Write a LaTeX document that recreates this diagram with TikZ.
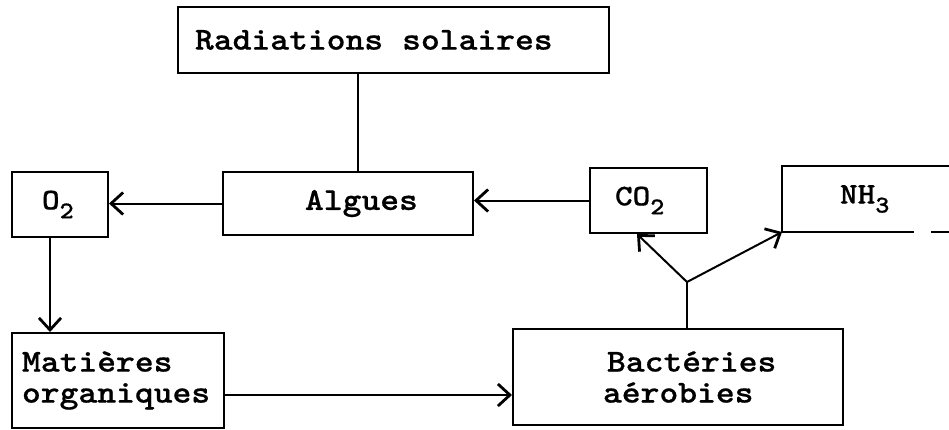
\documentclass[tikz,border=0pt]{standalone}
\usepackage{fontspec}
\newfontfamily\tw[FakeStretch=1.12,FakeBold=0.6]{lmmonolt10-bold.otf}
\usetikzlibrary{arrows.meta}
\newcommand\sbs[1]{\raisebox{-9pt}{\fontsize{24}{24}\selectfont #1}}
\begin{document}
\begin{tikzpicture}[x=1pt,y=-1pt,
  box/.style={draw, line width=2pt, inner sep=0pt, align=left,
    font=\tw\fontsize{32}{31}\selectfont},
  chem/.style={box, font=\tw\fontsize{30}{30}\selectfont},
  arr/.style={line width=2pt, -{Straight Barb[length=12pt,width=22pt,line width=2.8pt]}},
  ln/.style={line width=2pt}]
\useasboundingbox (0,0) rectangle (949,429);
\node[box, text width=431pt, minimum height=66pt] (rad) at (393.5,40)
  {\hspace*{17pt}Radiations\hspace*{19pt}solaires};
\node[box, text width=250pt, minimum height=63pt] (alg) at (348,203.5)
  {\hspace*{82pt}Algues};
\node[chem, text width=96pt, minimum height=65pt] (o2) at (60,204.5)
  {\hspace*{30pt}O\sbs{2}};
\node[chem, text width=117pt, minimum height=65pt] (co2) at (648.5,200.5)
  {\hspace*{25pt}CO\sbs{2}};
\node[chem, draw=none, text width=166pt, minimum height=64pt] (nh3) at (866,199)
  {\hspace*{57pt}NH\sbs{3}};
\node[box, text width=212pt, minimum height=95pt] (mat) at (118,380.5)
  {\hspace*{10pt}Matières\\\hspace*{10pt}organiques};
\node[box, text width=330pt, minimum height=96pt] (bac) at (678,377)
  {\hspace*{94pt}Bactéries\\\hspace*{90pt}aérobies};
% NH3 open box
\draw[ln] (nh3.north east) -- (nh3.north west) -- (nh3.south west) -- ([xshift=132pt]nh3.south west);
\draw[ln] ([xshift=149pt]nh3.south west) -- (nh3.south east);
% connectors
\draw[ln] ([xshift=-35.5pt]rad.south) -- ([xshift=10pt]alg.north);
\draw[arr] (alg.west) -- (alg.west -| o2.east);
\draw[arr] (co2.west) -- (co2.west -| alg.east);
\draw[arr] ([xshift=-10pt]o2.south) -- ([xshift=-10pt]o2.south |- mat.north);
\draw[arr] ([yshift=-14.5pt]mat.east) -- ([yshift=-14.5pt]mat.east -| bac.west);
\coordinate (br) at (687,282);
\draw[ln] ([xshift=9pt]bac.north) -- (br);
\draw[arr] (br) -- ([xshift=-11.5pt]co2.south);
\draw[arr] (br) -- (nh3.south west);
\end{tikzpicture}
\end{document}
